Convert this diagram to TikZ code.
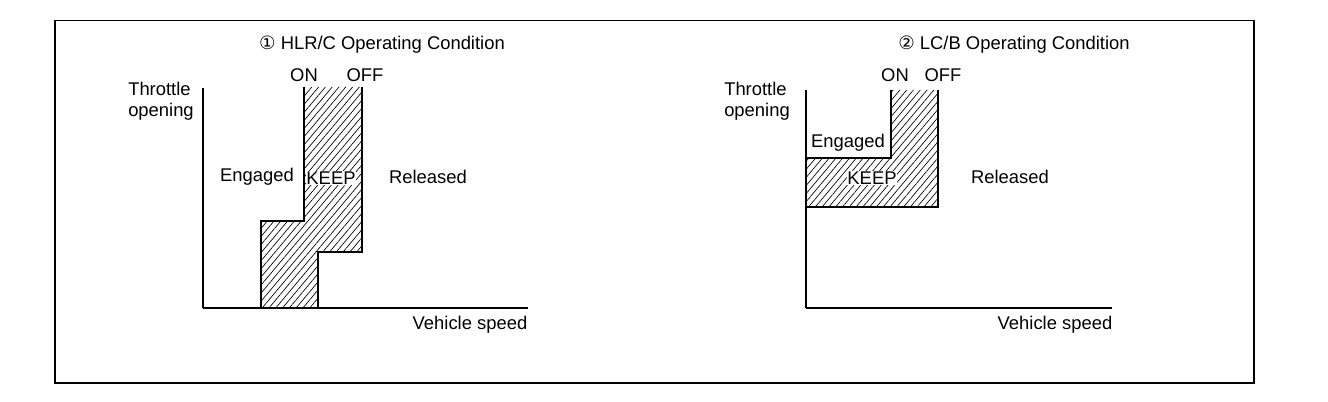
\documentclass[tikz,border=0pt]{standalone}
\usepackage{fontspec}
\setmainfont{Liberation Sans}
\newfontfamily\symfont{DejaVu Sans}
\usetikzlibrary{patterns.meta}
\begin{document}
\begin{tikzpicture}[x=0.75pt,y=-0.75pt,
  lbl/.style={font=\fontsize{13.8}{16}\selectfont, inner sep=0pt},
  axisline/.style={line width=0.8pt},
  xaxis/.style={line width=1.4pt},
  bound/.style={line width=1.7pt},
  hatch/.style={pattern={Lines[angle=50,distance=3.9pt,line width=0.5pt]}},
  frameline/.style={line width=1.6pt}]
\useasboundingbox (0,0) rectangle (1328,402);
% frame
\draw[line width=0.9pt] (55,20.5) -- (1254,20.5);
\draw[frameline] (55,20.5) -- (55,383) -- (1254,383) -- (1254,20.5);

% ---------- left panel ----------
\fill[hatch] (304,87) -- (304,221) -- (261,221) -- (261,308) -- (318,308) -- (318,252) -- (362,252) -- (362,87) -- cycle;
\draw[axisline] (203,88) -- (203,308);
\draw[xaxis] (203,308) -- (528,308);
\draw[bound] (304,87) -- (304,221) -- (261,221) -- (261,308);
\draw[bound] (318,308) -- (318,252) -- (362,252) -- (362,87);
\node[lbl] (t1) at (382,45) {{\symfont ①} HLR/C Operating Condition};
\node[lbl] (on1) at (304,75) {ON};
\node[lbl] (off1) at (365,75) {OFF};
\node[lbl, align=left] (y1) at (161,101) {Throttle\\opening};
\node[lbl] (x1) at (470,325) {Vehicle speed};
\node[lbl] (e1) at (257,177) {Engaged};
\node[lbl, fill=white, inner sep=0.6pt] (k1) at (331,178) {KEEP};
\node[lbl] (r1) at (428,177) {Released};

% ---------- right panel ----------
\fill[hatch] (891,90) -- (891,158) -- (806,158) -- (806,207) -- (938,207) -- (938,90) -- cycle;
\draw[axisline] (806,90) -- (806,308);
\draw[xaxis] (806,308) -- (1112,308);
\draw[bound] (891,90) -- (891,158) -- (806,158);
\draw[bound] (806,207) -- (938,207) -- (938,90);
\node[lbl] (t2) at (1014,45) {{\symfont ②} LC/B Operating Condition};
\node[lbl] (on2) at (895,75) {ON};
\node[lbl] (off2) at (943,75) {OFF};
\node[lbl, align=left] (y2) at (757,101) {Throttle\\opening};
\node[lbl] (x2) at (1055,325) {Vehicle speed};
\node[lbl, fill=white, inner sep=0.6pt] (e2) at (848,143) {Engaged};
\node[lbl, fill=white, inner sep=0.6pt] (k2) at (872,178) {KEEP};
\node[lbl] (r2) at (1010,177) {Released};
\end{tikzpicture}
\end{document}
